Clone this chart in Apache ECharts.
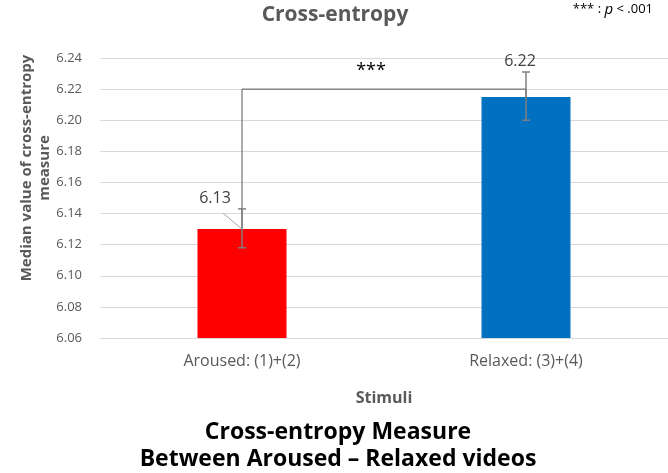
<!DOCTYPE html>
<html>
<head>
<meta charset="UTF-8">
<title>Cross-entropy</title>
<script src="https://cdn.jsdelivr.net/npm/echarts@6/dist/echarts.min.js"></script>
<style>
  html, body { margin: 0; padding: 0; background: #fff; }
  #main { width: 668px; height: 473px; }
</style>
</head>
<body>
<div id="main"></div>
<script>
  var categories = ['Aroused: (1)+(2)', 'Relaxed: (3)+(4)'];
  var medians = [6.13, 6.215];
  var labels = ['6.13', '6.22'];
  var errLow = [6.118, 6.200];
  var errHigh = [6.143, 6.231];
  var barColors = ['#ff0000', '#0070c0'];
  var bracketLevel = 6.22;
  var yTicks = { min: 6.06, max: 6.24, step: 0.02 };

  var font = '"Open Sans", "Noto Sans", sans-serif';
  var myChart = echarts.init(document.getElementById('main'));

  var option = {
    animation: false,
    textStyle: { fontFamily: font },
    title: {
      text: 'Cross-entropy',
      left: 330, top: 0, textAlign: 'center',
      textStyle: { fontSize: 21, fontWeight: 'bold', color: '#595959', fontFamily: font }
    },
    grid: { left: 100, right: 0, top: 58, bottom: 135 },
    xAxis: {
      type: 'category',
      data: categories,
      name: 'Stimuli',
      nameLocation: 'middle',
      nameGap: 52,
      nameTextStyle: { fontSize: 16, fontWeight: 'bold', color: '#595959' },
      axisLine: { lineStyle: { color: '#d9d9d9' } },
      axisTick: { show: false },
      axisLabel: { fontSize: 16, color: '#595959', margin: 15 }
    },
    yAxis: {
      type: 'value',
      min: yTicks.min, max: yTicks.max, interval: yTicks.step,
      axisLabel: {
        fontSize: 13, color: '#595959', margin: 18,
        formatter: function (v) { return v.toFixed(2); }
      },
      axisLine: { show: false },
      axisTick: { show: false },
      splitLine: { lineStyle: { color: '#d9d9d9' } }
    },
    graphic: [
      {
        type: 'text', x: 36, y: 168, rotation: Math.PI / 2,
        style: {
          text: 'Median value of cross-entropy\nmeasure',
          align: 'center', verticalAlign: 'middle', lineHeight: 18,
          font: 'bold 15px ' + font, fill: '#595959'
        }
      },
      {
        type: 'text', right: 15, top: 2,
        style: {
          text: '{a|*** : }{p|p}{a| < .001}',
          rich: {
            a: { fontSize: 13, fill: '#000', fontFamily: font },
            p: { fontSize: 15, fontStyle: 'italic', fill: '#000', fontFamily: font }
          }
        }
      },
      {
        type: 'text', x: 338, y: 446,
        style: {
          text: 'Cross-entropy Measure\nBetween Aroused – Relaxed videos',
          align: 'center', verticalAlign: 'middle', lineHeight: 27,
          font: 'bold 23px ' + font, fill: '#000'
        }
      }
    ],
    series: [
      {
        type: 'bar',
        barWidth: 89,
        data: medians.map(function (v, i) {
          return { value: v, itemStyle: { color: barColors[i] } };
        }),
        z: 2
      },
      {
        // significance bracket
        type: 'custom',
        data: [[0, 1]],
        renderItem: function (params, api) {
          var a = api.coord([0, medians[0]]);
          var top = api.coord([0, bracketLevel]);
          var b = api.coord([1, bracketLevel]);
          var c = api.coord([1, medians[1]]);
          var mid = (top[0] + b[0]) / 2;
          return {
            type: 'group',
            children: [
              {
                type: 'polyline',
                shape: { points: [a, top, b, c] },
                style: { stroke: '#595959', lineWidth: 1, fill: 'none' }
              },
              {
                type: 'text',
                style: {
                  text: '***', x: mid - 13, y: top[1] - 18,
                  align: 'center', verticalAlign: 'middle',
                  font: '18px ' + font, fill: '#000'
                }
              }
            ]
          };
        },
        z: 3
      },
      {
        // error bars and value labels
        type: 'custom',
        data: categories.map(function (c, i) { return [i, errLow[i], errHigh[i]]; }),
        renderItem: function (params, api) {
          var i = params.dataIndex;
          var lo = api.coord([i, api.value(1)]);
          var hi = api.coord([i, api.value(2)]);
          var barTop = api.coord([i, medians[i]]);
          var cap = 4;
          var st = { stroke: '#7f7f7f', lineWidth: 1.5 };
          var children = [
            { type: 'line', shape: { x1: lo[0], y1: lo[1], x2: hi[0], y2: hi[1] }, style: st },
            { type: 'line', shape: { x1: lo[0] - cap, y1: lo[1], x2: lo[0] + cap, y2: lo[1] }, style: st },
            { type: 'line', shape: { x1: hi[0] - cap, y1: hi[1], x2: hi[0] + cap, y2: hi[1] }, style: st }
          ];
          if (i === 0) {
            children.push({
              type: 'line',
              shape: { x1: barTop[0] - 19, y1: barTop[1] - 16, x2: barTop[0], y2: barTop[1] },
              style: { stroke: '#a6a6a6', lineWidth: 1 }
            });
            children.push({
              type: 'text',
              style: {
                text: labels[i], x: barTop[0] - 27, y: barTop[1] - 31,
                align: 'center', verticalAlign: 'middle',
                font: '16px ' + font, fill: '#404040'
              }
            });
          } else {
            children.push({
              type: 'text',
              style: {
                text: labels[i], x: hi[0] - 6, y: hi[1] - 11,
                align: 'center', verticalAlign: 'middle',
                font: '16px ' + font, fill: '#404040'
              }
            });
          }
          return { type: 'group', children: children };
        },
        z: 4
      }
    ]
  };
  myChart.setOption(option);
</script>
</body>
</html>
